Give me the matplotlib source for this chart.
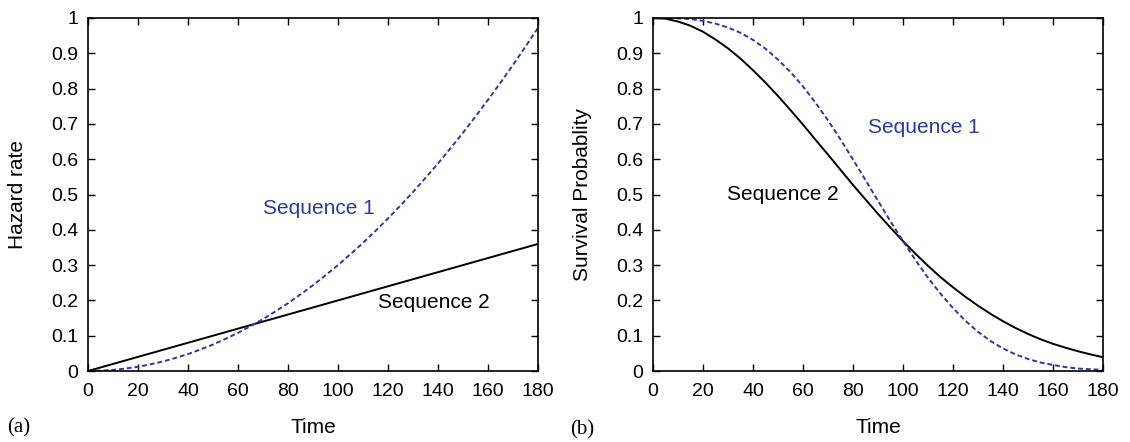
import matplotlib.pyplot as plt

plt.rcParams["font.family"] = ["Liberation Sans", "DejaVu Sans"]

time = [0, 5, 10, 15, 20, 25, 30, 35, 40, 45, 50, 55, 60, 65, 70, 75, 80, 85, 90,
        95, 100, 105, 110, 115, 120, 125, 130, 135, 140, 145, 150, 155, 160, 165,
        170, 175, 180]

hazard_seq1 = [0.0, 0.001, 0.003, 0.007, 0.012, 0.019, 0.027, 0.037, 0.048, 0.061,
               0.075, 0.091, 0.108, 0.127, 0.147, 0.169, 0.192, 0.217, 0.243,
               0.271, 0.300, 0.331, 0.363, 0.397, 0.432, 0.469, 0.507, 0.547,
               0.588, 0.631, 0.675, 0.721, 0.768, 0.817, 0.867, 0.919, 0.972]
hazard_seq2 = [0.0, 0.01, 0.02, 0.03, 0.04, 0.05, 0.06, 0.07, 0.08, 0.09,
               0.10, 0.11, 0.12, 0.13, 0.14, 0.15, 0.16, 0.17, 0.18,
               0.19, 0.20, 0.21, 0.22, 0.23, 0.24, 0.25, 0.26, 0.27,
               0.28, 0.29, 0.30, 0.31, 0.32, 0.33, 0.34, 0.35, 0.36]

surv_seq1 = [1.0, 1.0, 0.999, 0.997, 0.992, 0.984, 0.973, 0.958, 0.938, 0.913,
             0.882, 0.847, 0.806, 0.760, 0.710, 0.656, 0.599, 0.541, 0.482,
             0.424, 0.368, 0.314, 0.264, 0.219, 0.178, 0.142, 0.111, 0.085,
             0.064, 0.047, 0.034, 0.024, 0.017, 0.011, 0.007, 0.005, 0.003]
surv_seq2 = [1.0, 0.998, 0.990, 0.978, 0.961, 0.939, 0.914, 0.885, 0.852, 0.817,
             0.779, 0.739, 0.698, 0.655, 0.613, 0.570, 0.527, 0.486, 0.445,
             0.406, 0.368, 0.332, 0.298, 0.266, 0.237, 0.210, 0.185, 0.162,
             0.141, 0.122, 0.105, 0.090, 0.077, 0.066, 0.056, 0.047, 0.039]

xticks = [0, 20, 40, 60, 80, 100, 120, 140, 160, 180]
yticks = [0, 0.1, 0.2, 0.3, 0.4, 0.5, 0.6, 0.7, 0.8, 0.9, 1]
ytick_labels = ["0", "0.1", "0.2", "0.3", "0.4", "0.5", "0.6", "0.7", "0.8", "0.9", "1"]

blue = "#2b3a9c"
fs = 14
fs_txt = 15

fig = plt.figure(figsize=(11.3, 4.42), dpi=100)
ax1 = fig.add_axes([88 / 1130, 71 / 442, 450 / 1130, 353 / 442])
ax2 = fig.add_axes([653 / 1130, 71 / 442, 450 / 1130, 353 / 442])


def style(ax, ylabel):
    ax.set_xlim(0, 180)
    ax.set_ylim(0, 1)
    ax.set_xticks(xticks)
    ax.set_xticklabels([str(t) for t in xticks])
    ax.set_yticks(yticks)
    ax.set_yticklabels(ytick_labels)
    ax.tick_params(direction="in", top=True, right=True, length=5, width=1,
                   labelsize=fs, colors="black")
    ax.tick_params(axis="x", pad=9)
    ax.tick_params(axis="y", pad=7)
    for s in ax.spines.values():
        s.set_linewidth(1.2)
    ax.set_xlabel("Time", fontsize=fs_txt, va="center")
    ax.set_ylabel(ylabel, fontsize=fs_txt, va="center")
    ax.xaxis.set_label_coords(0.5, -0.161)
    ax.yaxis.set_label_coords(-0.157, 0.5)


ax1.plot(time, hazard_seq2, color="black", lw=1.4)
ax1.plot(time, hazard_seq1, color=blue, lw=1.4, ls=(0, (2.5, 1.5)))
ax1.text(70, 0.46, "Sequence 1", color=blue, fontsize=fs_txt, va="center")
ax1.text(116, 0.195, "Sequence 2", color="black", fontsize=fs_txt, va="center")
style(ax1, "Hazard rate")

ax2.plot(time, surv_seq2, color="black", lw=1.4)
ax2.plot(time, surv_seq1, color=blue, lw=1.4, ls=(0, (2.5, 1.5)))
ax2.text(86, 0.69, "Sequence 1", color=blue, fontsize=fs_txt, va="center")
ax2.text(29.6, 0.50, "Sequence 2", color="black", fontsize=fs_txt, va="center")
style(ax2, "Survival Probablity")

fig.text(7 / 1130, 1 - 428 / 442, "(a)", fontsize=fs_txt, family=["Liberation Serif", "DejaVu Serif"], va="center")
fig.text(570 / 1130, 1 - 430 / 442, "(b)", fontsize=fs_txt, family=["Liberation Serif", "DejaVu Serif"], va="center")

fig.savefig("out.png", dpi=100)
